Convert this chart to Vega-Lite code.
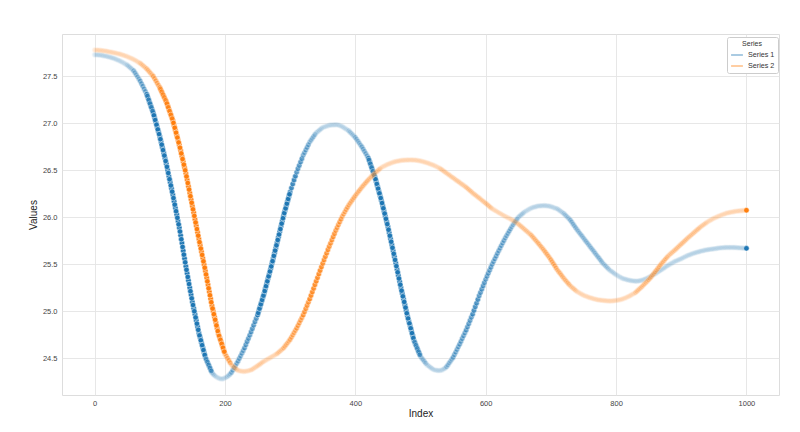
{
  "$schema": "https://vega.github.io/schema/vega-lite/v6.json",
  "width": 717,
  "height": 361,
  "autosize": {"type": "none"},
  "padding": {"left": 62, "top": 34, "right": 21, "bottom": 37},
  "background": "white",
  "data": {"values": [
    {"i":0,"a":27.730,"b":27.780},{"i":2,"a":27.729,"b":27.779},{"i":4,"a":27.728,"b":27.778},{"i":6,"a":27.727,"b":27.777},{"i":8,"a":27.726,"b":27.776},
    {"i":10,"a":27.725,"b":27.775},{"i":12,"a":27.722,"b":27.773},{"i":14,"a":27.719,"b":27.771},{"i":16,"a":27.716,"b":27.769},{"i":18,"a":27.713,"b":27.767},
    {"i":20,"a":27.710,"b":27.765},{"i":22,"a":27.706,"b":27.762},{"i":24,"a":27.702,"b":27.759},{"i":26,"a":27.698,"b":27.756},{"i":28,"a":27.694,"b":27.753},
    {"i":30,"a":27.690,"b":27.750},{"i":32,"a":27.684,"b":27.747},{"i":34,"a":27.678,"b":27.744},{"i":36,"a":27.672,"b":27.741},{"i":38,"a":27.666,"b":27.738},
    {"i":40,"a":27.660,"b":27.735},{"i":42,"a":27.652,"b":27.730},{"i":44,"a":27.644,"b":27.725},{"i":46,"a":27.636,"b":27.720},{"i":48,"a":27.628,"b":27.715},
    {"i":50,"a":27.620,"b":27.710},{"i":52,"a":27.608,"b":27.704},{"i":54,"a":27.596,"b":27.698},{"i":56,"a":27.584,"b":27.692},{"i":58,"a":27.572,"b":27.686},
    {"i":60,"a":27.560,"b":27.680},{"i":62,"a":27.538,"b":27.672},{"i":64,"a":27.516,"b":27.664},{"i":66,"a":27.494,"b":27.656},{"i":68,"a":27.472,"b":27.648},
    {"i":70,"a":27.450,"b":27.640},{"i":72,"a":27.422,"b":27.628},{"i":74,"a":27.394,"b":27.616},{"i":76,"a":27.366,"b":27.604},{"i":78,"a":27.338,"b":27.592},
    {"i":80,"a":27.310,"b":27.580},{"i":82,"a":27.270,"b":27.564},{"i":84,"a":27.230,"b":27.548},{"i":86,"a":27.190,"b":27.532},{"i":88,"a":27.150,"b":27.516},
    {"i":90,"a":27.110,"b":27.500},{"i":92,"a":27.060,"b":27.476},{"i":94,"a":27.010,"b":27.452},{"i":96,"a":26.960,"b":27.428},{"i":98,"a":26.910,"b":27.404},
    {"i":100,"a":26.860,"b":27.380},{"i":102,"a":26.802,"b":27.350},{"i":104,"a":26.744,"b":27.320},{"i":106,"a":26.686,"b":27.290},{"i":108,"a":26.628,"b":27.260},
    {"i":110,"a":26.570,"b":27.230},{"i":112,"a":26.504,"b":27.190},{"i":114,"a":26.438,"b":27.150},{"i":116,"a":26.372,"b":27.110},{"i":118,"a":26.306,"b":27.070},
    {"i":120,"a":26.240,"b":27.030},{"i":122,"a":26.170,"b":26.978},{"i":124,"a":26.100,"b":26.926},{"i":126,"a":26.030,"b":26.874},{"i":128,"a":25.960,"b":26.822},
    {"i":130,"a":25.890,"b":26.770},{"i":132,"a":25.808,"b":26.710},{"i":134,"a":25.726,"b":26.650},{"i":136,"a":25.644,"b":26.590},{"i":138,"a":25.562,"b":26.530},
    {"i":140,"a":25.480,"b":26.470},{"i":142,"a":25.404,"b":26.400},{"i":144,"a":25.328,"b":26.330},{"i":146,"a":25.252,"b":26.260},{"i":148,"a":25.176,"b":26.190},
    {"i":150,"a":25.100,"b":26.120},{"i":152,"a":25.034,"b":26.050},{"i":154,"a":24.968,"b":25.980},{"i":156,"a":24.902,"b":25.910},{"i":158,"a":24.836,"b":25.840},
    {"i":160,"a":24.770,"b":25.770},{"i":162,"a":24.718,"b":25.702},{"i":164,"a":24.666,"b":25.634},{"i":166,"a":24.614,"b":25.566},{"i":168,"a":24.562,"b":25.498},
    {"i":170,"a":24.510,"b":25.430},{"i":172,"a":24.478,"b":25.356},{"i":174,"a":24.446,"b":25.282},{"i":176,"a":24.414,"b":25.208},{"i":178,"a":24.382,"b":25.134},
    {"i":180,"a":24.350,"b":25.060},{"i":182,"a":24.332,"b":25.000},{"i":184,"a":24.318,"b":24.940},{"i":186,"a":24.306,"b":24.880},{"i":188,"a":24.297,"b":24.820},
    {"i":190,"a":24.290,"b":24.760},{"i":192,"a":24.285,"b":24.718},{"i":194,"a":24.281,"b":24.676},{"i":196,"a":24.281,"b":24.634},{"i":198,"a":24.285,"b":24.592},
    {"i":200,"a":24.290,"b":24.550},{"i":202,"a":24.298,"b":24.526},{"i":204,"a":24.308,"b":24.502},{"i":206,"a":24.320,"b":24.478},{"i":208,"a":24.334,"b":24.454},
    {"i":210,"a":24.350,"b":24.430},{"i":212,"a":24.374,"b":24.418},{"i":214,"a":24.398,"b":24.406},{"i":216,"a":24.422,"b":24.394},{"i":218,"a":24.446,"b":24.382},
    {"i":220,"a":24.470,"b":24.370},{"i":222,"a":24.498,"b":24.367},{"i":224,"a":24.526,"b":24.365},{"i":226,"a":24.554,"b":24.363},{"i":228,"a":24.582,"b":24.361},
    {"i":230,"a":24.610,"b":24.360},{"i":232,"a":24.644,"b":24.362},{"i":234,"a":24.678,"b":24.365},{"i":236,"a":24.712,"b":24.368},{"i":238,"a":24.746,"b":24.372},
    {"i":240,"a":24.780,"b":24.375},{"i":242,"a":24.816,"b":24.384},{"i":244,"a":24.852,"b":24.393},{"i":246,"a":24.888,"b":24.402},{"i":248,"a":24.924,"b":24.411},
    {"i":250,"a":24.960,"b":24.420},{"i":252,"a":25.006,"b":24.430},{"i":254,"a":25.052,"b":24.440},{"i":256,"a":25.098,"b":24.450},{"i":258,"a":25.144,"b":24.460},
    {"i":260,"a":25.190,"b":24.470},{"i":262,"a":25.242,"b":24.478},{"i":264,"a":25.294,"b":24.486},{"i":266,"a":25.346,"b":24.494},{"i":268,"a":25.398,"b":24.502},
    {"i":270,"a":25.450,"b":24.510},{"i":272,"a":25.506,"b":24.518},{"i":274,"a":25.562,"b":24.526},{"i":276,"a":25.618,"b":24.534},{"i":278,"a":25.674,"b":24.542},
    {"i":280,"a":25.730,"b":24.550},{"i":282,"a":25.788,"b":24.562},{"i":284,"a":25.846,"b":24.574},{"i":286,"a":25.904,"b":24.586},{"i":288,"a":25.962,"b":24.598},
    {"i":290,"a":26.020,"b":24.610},{"i":292,"a":26.070,"b":24.628},{"i":294,"a":26.120,"b":24.646},{"i":296,"a":26.170,"b":24.664},{"i":298,"a":26.220,"b":24.682},
    {"i":300,"a":26.270,"b":24.700},{"i":302,"a":26.312,"b":24.724},{"i":304,"a":26.354,"b":24.748},{"i":306,"a":26.396,"b":24.772},{"i":308,"a":26.438,"b":24.796},
    {"i":310,"a":26.480,"b":24.820},{"i":312,"a":26.516,"b":24.848},{"i":314,"a":26.552,"b":24.876},{"i":316,"a":26.588,"b":24.904},{"i":318,"a":26.624,"b":24.932},
    {"i":320,"a":26.660,"b":24.960},{"i":322,"a":26.688,"b":24.994},{"i":324,"a":26.716,"b":25.028},{"i":326,"a":26.744,"b":25.062},{"i":328,"a":26.772,"b":25.096},
    {"i":330,"a":26.800,"b":25.130},{"i":332,"a":26.820,"b":25.168},{"i":334,"a":26.840,"b":25.206},{"i":336,"a":26.860,"b":25.244},{"i":338,"a":26.880,"b":25.282},
    {"i":340,"a":26.900,"b":25.320},{"i":342,"a":26.911,"b":25.358},{"i":344,"a":26.922,"b":25.396},{"i":346,"a":26.933,"b":25.434},{"i":348,"a":26.944,"b":25.472},
    {"i":350,"a":26.955,"b":25.510},{"i":352,"a":26.960,"b":25.546},{"i":354,"a":26.965,"b":25.582},{"i":356,"a":26.970,"b":25.618},{"i":358,"a":26.975,"b":25.654},
    {"i":360,"a":26.980,"b":25.690},{"i":362,"a":26.981,"b":25.724},{"i":364,"a":26.982,"b":25.758},{"i":366,"a":26.983,"b":25.792},{"i":368,"a":26.984,"b":25.826},
    {"i":370,"a":26.985,"b":25.860},{"i":372,"a":26.984,"b":25.890},{"i":374,"a":26.981,"b":25.920},{"i":376,"a":26.977,"b":25.950},{"i":378,"a":26.971,"b":25.980},
    {"i":380,"a":26.965,"b":26.010},{"i":382,"a":26.956,"b":26.034},{"i":384,"a":26.947,"b":26.058},{"i":386,"a":26.938,"b":26.082},{"i":388,"a":26.929,"b":26.106},
    {"i":390,"a":26.920,"b":26.130},{"i":392,"a":26.906,"b":26.150},{"i":394,"a":26.892,"b":26.170},{"i":396,"a":26.878,"b":26.190},{"i":398,"a":26.864,"b":26.210},
    {"i":400,"a":26.850,"b":26.230},{"i":402,"a":26.830,"b":26.248},{"i":404,"a":26.810,"b":26.266},{"i":406,"a":26.790,"b":26.284},{"i":408,"a":26.770,"b":26.302},
    {"i":410,"a":26.750,"b":26.320},{"i":412,"a":26.726,"b":26.336},{"i":414,"a":26.702,"b":26.352},{"i":416,"a":26.678,"b":26.368},{"i":418,"a":26.654,"b":26.384},
    {"i":420,"a":26.630,"b":26.400},{"i":422,"a":26.590,"b":26.414},{"i":424,"a":26.550,"b":26.428},{"i":426,"a":26.510,"b":26.442},{"i":428,"a":26.470,"b":26.456},
    {"i":430,"a":26.430,"b":26.470},{"i":432,"a":26.380,"b":26.482},{"i":434,"a":26.330,"b":26.494},{"i":436,"a":26.280,"b":26.506},{"i":438,"a":26.230,"b":26.518},
    {"i":440,"a":26.180,"b":26.530},{"i":442,"a":26.124,"b":26.537},{"i":444,"a":26.068,"b":26.544},{"i":446,"a":26.012,"b":26.551},{"i":448,"a":25.956,"b":26.558},
    {"i":450,"a":25.900,"b":26.565},{"i":452,"a":25.836,"b":26.570},{"i":454,"a":25.772,"b":26.575},{"i":456,"a":25.708,"b":26.580},{"i":458,"a":25.644,"b":26.585},
    {"i":460,"a":25.580,"b":26.590},{"i":462,"a":25.514,"b":26.593},{"i":464,"a":25.448,"b":26.596},{"i":466,"a":25.382,"b":26.599},{"i":468,"a":25.316,"b":26.602},
    {"i":470,"a":25.250,"b":26.605},{"i":472,"a":25.190,"b":26.606},{"i":474,"a":25.130,"b":26.607},{"i":476,"a":25.070,"b":26.608},{"i":478,"a":25.010,"b":26.609},
    {"i":480,"a":24.950,"b":26.610},{"i":482,"a":24.898,"b":26.610},{"i":484,"a":24.846,"b":26.611},{"i":486,"a":24.794,"b":26.611},{"i":488,"a":24.742,"b":26.610},
    {"i":490,"a":24.690,"b":26.610},{"i":492,"a":24.656,"b":26.608},{"i":494,"a":24.622,"b":26.606},{"i":496,"a":24.588,"b":26.604},{"i":498,"a":24.554,"b":26.602},
    {"i":500,"a":24.520,"b":26.600},{"i":502,"a":24.502,"b":26.596},{"i":504,"a":24.484,"b":26.592},{"i":506,"a":24.466,"b":26.588},{"i":508,"a":24.448,"b":26.584},
    {"i":510,"a":24.430,"b":26.580},{"i":512,"a":24.420,"b":26.575},{"i":514,"a":24.410,"b":26.570},{"i":516,"a":24.400,"b":26.565},{"i":518,"a":24.390,"b":26.560},
    {"i":520,"a":24.380,"b":26.555},{"i":522,"a":24.376,"b":26.548},{"i":524,"a":24.373,"b":26.541},{"i":526,"a":24.371,"b":26.534},{"i":528,"a":24.370,"b":26.527},
    {"i":530,"a":24.370,"b":26.520},{"i":532,"a":24.373,"b":26.510},{"i":534,"a":24.379,"b":26.500},{"i":536,"a":24.388,"b":26.490},{"i":538,"a":24.398,"b":26.480},
    {"i":540,"a":24.410,"b":26.470},{"i":542,"a":24.430,"b":26.460},{"i":544,"a":24.450,"b":26.450},{"i":546,"a":24.470,"b":26.440},{"i":548,"a":24.490,"b":26.430},
    {"i":550,"a":24.510,"b":26.420},{"i":552,"a":24.538,"b":26.410},{"i":554,"a":24.566,"b":26.400},{"i":556,"a":24.594,"b":26.390},{"i":558,"a":24.622,"b":26.380},
    {"i":560,"a":24.650,"b":26.370},{"i":562,"a":24.680,"b":26.360},{"i":564,"a":24.710,"b":26.350},{"i":566,"a":24.740,"b":26.340},{"i":568,"a":24.770,"b":26.330},
    {"i":570,"a":24.800,"b":26.320},{"i":572,"a":24.834,"b":26.308},{"i":574,"a":24.868,"b":26.296},{"i":576,"a":24.902,"b":26.284},{"i":578,"a":24.936,"b":26.272},
    {"i":580,"a":24.970,"b":26.260},{"i":582,"a":25.009,"b":26.249},{"i":584,"a":25.048,"b":26.238},{"i":586,"a":25.087,"b":26.227},{"i":588,"a":25.126,"b":26.216},
    {"i":590,"a":25.165,"b":26.205},{"i":592,"a":25.200,"b":26.194},{"i":594,"a":25.235,"b":26.183},{"i":596,"a":25.270,"b":26.172},{"i":598,"a":25.305,"b":26.161},
    {"i":600,"a":25.340,"b":26.150},{"i":602,"a":25.372,"b":26.138},{"i":604,"a":25.404,"b":26.126},{"i":606,"a":25.436,"b":26.114},{"i":608,"a":25.468,"b":26.102},
    {"i":610,"a":25.500,"b":26.090},{"i":612,"a":25.529,"b":26.082},{"i":614,"a":25.558,"b":26.074},{"i":616,"a":25.587,"b":26.066},{"i":618,"a":25.616,"b":26.058},
    {"i":620,"a":25.645,"b":26.050},{"i":622,"a":25.672,"b":26.042},{"i":624,"a":25.699,"b":26.034},{"i":626,"a":25.726,"b":26.026},{"i":628,"a":25.753,"b":26.018},
    {"i":630,"a":25.780,"b":26.010},{"i":632,"a":25.804,"b":26.003},{"i":634,"a":25.828,"b":25.996},{"i":636,"a":25.852,"b":25.989},{"i":638,"a":25.876,"b":25.982},
    {"i":640,"a":25.900,"b":25.975},{"i":642,"a":25.920,"b":25.966},{"i":644,"a":25.940,"b":25.957},{"i":646,"a":25.960,"b":25.948},{"i":648,"a":25.980,"b":25.939},
    {"i":650,"a":26.000,"b":25.930},{"i":652,"a":26.012,"b":25.918},{"i":654,"a":26.024,"b":25.906},{"i":656,"a":26.036,"b":25.894},{"i":658,"a":26.048,"b":25.882},
    {"i":660,"a":26.060,"b":25.870},{"i":662,"a":26.068,"b":25.858},{"i":664,"a":26.076,"b":25.846},{"i":666,"a":26.084,"b":25.834},{"i":668,"a":26.092,"b":25.822},
    {"i":670,"a":26.100,"b":25.810},{"i":672,"a":26.104,"b":25.794},{"i":674,"a":26.108,"b":25.778},{"i":676,"a":26.112,"b":25.762},{"i":678,"a":26.116,"b":25.746},
    {"i":680,"a":26.120,"b":25.730},{"i":682,"a":26.121,"b":25.713},{"i":684,"a":26.122,"b":25.696},{"i":686,"a":26.123,"b":25.679},{"i":688,"a":26.124,"b":25.662},
    {"i":690,"a":26.125,"b":25.645},{"i":692,"a":26.124,"b":25.626},{"i":694,"a":26.122,"b":25.607},{"i":696,"a":26.120,"b":25.588},{"i":698,"a":26.118,"b":25.569},
    {"i":700,"a":26.115,"b":25.550},{"i":702,"a":26.110,"b":25.528},{"i":704,"a":26.105,"b":25.506},{"i":706,"a":26.100,"b":25.484},{"i":708,"a":26.095,"b":25.462},
    {"i":710,"a":26.090,"b":25.440},{"i":712,"a":26.080,"b":25.422},{"i":714,"a":26.070,"b":25.404},{"i":716,"a":26.060,"b":25.386},{"i":718,"a":26.050,"b":25.368},
    {"i":720,"a":26.040,"b":25.350},{"i":722,"a":26.026,"b":25.334},{"i":724,"a":26.012,"b":25.318},{"i":726,"a":25.998,"b":25.302},{"i":728,"a":25.984,"b":25.286},
    {"i":730,"a":25.970,"b":25.270},{"i":732,"a":25.950,"b":25.258},{"i":734,"a":25.930,"b":25.246},{"i":736,"a":25.910,"b":25.234},{"i":738,"a":25.890,"b":25.222},
    {"i":740,"a":25.870,"b":25.210},{"i":742,"a":25.852,"b":25.202},{"i":744,"a":25.834,"b":25.194},{"i":746,"a":25.816,"b":25.186},{"i":748,"a":25.798,"b":25.178},
    {"i":750,"a":25.780,"b":25.170},{"i":752,"a":25.762,"b":25.165},{"i":754,"a":25.744,"b":25.160},{"i":756,"a":25.726,"b":25.155},{"i":758,"a":25.708,"b":25.150},
    {"i":760,"a":25.690,"b":25.145},{"i":762,"a":25.672,"b":25.141},{"i":764,"a":25.654,"b":25.137},{"i":766,"a":25.636,"b":25.133},{"i":768,"a":25.618,"b":25.129},
    {"i":770,"a":25.600,"b":25.125},{"i":772,"a":25.582,"b":25.123},{"i":774,"a":25.564,"b":25.121},{"i":776,"a":25.546,"b":25.119},{"i":778,"a":25.528,"b":25.117},
    {"i":780,"a":25.510,"b":25.115},{"i":782,"a":25.496,"b":25.114},{"i":784,"a":25.482,"b":25.113},{"i":786,"a":25.468,"b":25.112},{"i":788,"a":25.454,"b":25.111},
    {"i":790,"a":25.440,"b":25.110},{"i":792,"a":25.430,"b":25.110},{"i":794,"a":25.420,"b":25.111},{"i":796,"a":25.410,"b":25.112},{"i":798,"a":25.400,"b":25.114},
    {"i":800,"a":25.390,"b":25.115},{"i":802,"a":25.382,"b":25.118},{"i":804,"a":25.374,"b":25.121},{"i":806,"a":25.366,"b":25.124},{"i":808,"a":25.358,"b":25.127},
    {"i":810,"a":25.350,"b":25.130},{"i":812,"a":25.346,"b":25.136},{"i":814,"a":25.342,"b":25.142},{"i":816,"a":25.338,"b":25.148},{"i":818,"a":25.334,"b":25.154},
    {"i":820,"a":25.330,"b":25.160},{"i":822,"a":25.328,"b":25.168},{"i":824,"a":25.326,"b":25.176},{"i":826,"a":25.324,"b":25.184},{"i":828,"a":25.322,"b":25.192},
    {"i":830,"a":25.320,"b":25.200},{"i":832,"a":25.321,"b":25.213},{"i":834,"a":25.323,"b":25.226},{"i":836,"a":25.325,"b":25.239},{"i":838,"a":25.327,"b":25.252},
    {"i":840,"a":25.330,"b":25.265},{"i":842,"a":25.336,"b":25.279},{"i":844,"a":25.342,"b":25.293},{"i":846,"a":25.348,"b":25.307},{"i":848,"a":25.354,"b":25.321},
    {"i":850,"a":25.360,"b":25.335},{"i":852,"a":25.368,"b":25.352},{"i":854,"a":25.376,"b":25.369},{"i":856,"a":25.384,"b":25.386},{"i":858,"a":25.392,"b":25.403},
    {"i":860,"a":25.400,"b":25.420},{"i":862,"a":25.409,"b":25.438},{"i":864,"a":25.418,"b":25.456},{"i":866,"a":25.427,"b":25.474},{"i":868,"a":25.436,"b":25.492},
    {"i":870,"a":25.445,"b":25.510},{"i":872,"a":25.454,"b":25.526},{"i":874,"a":25.463,"b":25.542},{"i":876,"a":25.472,"b":25.558},{"i":878,"a":25.481,"b":25.574},
    {"i":880,"a":25.490,"b":25.590},{"i":882,"a":25.498,"b":25.602},{"i":884,"a":25.506,"b":25.614},{"i":886,"a":25.514,"b":25.626},{"i":888,"a":25.522,"b":25.638},
    {"i":890,"a":25.530,"b":25.650},{"i":892,"a":25.536,"b":25.663},{"i":894,"a":25.542,"b":25.676},{"i":896,"a":25.548,"b":25.689},{"i":898,"a":25.554,"b":25.702},
    {"i":900,"a":25.560,"b":25.715},{"i":902,"a":25.567,"b":25.728},{"i":904,"a":25.574,"b":25.741},{"i":906,"a":25.581,"b":25.754},{"i":908,"a":25.588,"b":25.767},
    {"i":910,"a":25.595,"b":25.780},{"i":912,"a":25.600,"b":25.792},{"i":914,"a":25.605,"b":25.804},{"i":916,"a":25.610,"b":25.816},{"i":918,"a":25.615,"b":25.828},
    {"i":920,"a":25.620,"b":25.840},{"i":922,"a":25.624,"b":25.852},{"i":924,"a":25.628,"b":25.864},{"i":926,"a":25.632,"b":25.876},{"i":928,"a":25.636,"b":25.888},
    {"i":930,"a":25.640,"b":25.900},{"i":932,"a":25.643,"b":25.910},{"i":934,"a":25.646,"b":25.920},{"i":936,"a":25.649,"b":25.930},{"i":938,"a":25.652,"b":25.940},
    {"i":940,"a":25.655,"b":25.950},{"i":942,"a":25.657,"b":25.958},{"i":944,"a":25.659,"b":25.966},{"i":946,"a":25.661,"b":25.974},{"i":948,"a":25.663,"b":25.982},
    {"i":950,"a":25.665,"b":25.990},{"i":952,"a":25.667,"b":25.996},{"i":954,"a":25.669,"b":26.002},{"i":956,"a":25.671,"b":26.008},{"i":958,"a":25.673,"b":26.014},
    {"i":960,"a":25.675,"b":26.020},{"i":962,"a":25.676,"b":26.025},{"i":964,"a":25.677,"b":26.030},{"i":966,"a":25.678,"b":26.035},{"i":968,"a":25.679,"b":26.040},
    {"i":970,"a":25.680,"b":26.045},{"i":972,"a":25.680,"b":26.048},{"i":974,"a":25.680,"b":26.051},{"i":976,"a":25.680,"b":26.054},{"i":978,"a":25.680,"b":26.057},
    {"i":980,"a":25.680,"b":26.060},{"i":982,"a":25.679,"b":26.062},{"i":984,"a":25.678,"b":26.064},{"i":986,"a":25.677,"b":26.066},{"i":988,"a":25.676,"b":26.068},
    {"i":990,"a":25.675,"b":26.070},{"i":992,"a":25.674,"b":26.071},{"i":994,"a":25.673,"b":26.072},{"i":996,"a":25.672,"b":26.073},{"i":998,"a":25.671,"b":26.074},
    {"i":1000,"a":25.670,"b":26.075},
    {"i":81,"a":27.290},{"i":83,"a":27.250},{"i":85,"a":27.210},{"i":87,"a":27.170},{"i":89,"a":27.130},
    {"i":91,"a":27.085},{"i":93,"a":27.035},{"i":95,"a":26.985},{"i":97,"a":26.935},{"i":99,"a":26.885},
    {"i":101,"a":26.831,"b":27.365},{"i":103,"a":26.773,"b":27.335},{"i":105,"a":26.715,"b":27.305},{"i":107,"a":26.657,"b":27.275},{"i":109,"a":26.599,"b":27.245},
    {"i":111,"a":26.537,"b":27.210},{"i":113,"a":26.471,"b":27.170},{"i":115,"a":26.405,"b":27.130},{"i":117,"a":26.339,"b":27.090},{"i":119,"a":26.273,"b":27.050},
    {"i":121,"a":26.205,"b":27.004},{"i":123,"a":26.135,"b":26.952},{"i":125,"a":26.065,"b":26.900},{"i":127,"a":25.995,"b":26.848},{"i":129,"a":25.925,"b":26.796},
    {"i":131,"a":25.849,"b":26.740},{"i":133,"a":25.767,"b":26.680},{"i":135,"a":25.685,"b":26.620},{"i":137,"a":25.603,"b":26.560},{"i":139,"a":25.521,"b":26.500},
    {"i":141,"a":25.442,"b":26.435},{"i":143,"a":25.366,"b":26.365},{"i":145,"a":25.290,"b":26.295},{"i":147,"a":25.214,"b":26.225},{"i":149,"a":25.138,"b":26.155},
    {"i":151,"a":25.067,"b":26.085},{"i":153,"a":25.001,"b":26.015},{"i":155,"a":24.935,"b":25.945},{"i":157,"a":24.869,"b":25.875},{"i":159,"a":24.803,"b":25.805},
    {"i":161,"a":24.744,"b":25.736},{"i":163,"a":24.692,"b":25.668},{"i":165,"a":24.640,"b":25.600},{"i":167,"a":24.588,"b":25.532},{"i":169,"a":24.536,"b":25.464},
    {"i":171,"a":24.494,"b":25.393},{"i":173,"a":24.462,"b":25.319},{"i":175,"a":24.430,"b":25.245},{"i":177,"a":24.398,"b":25.171},{"i":179,"a":24.366,"b":25.097},
    {"i":181,"b":25.030},{"i":183,"b":24.970},{"i":185,"b":24.910},{"i":187,"b":24.850},{"i":189,"b":24.790},
    {"i":191,"b":24.739},{"i":193,"b":24.697},{"i":195,"b":24.655},{"i":197,"b":24.613},{"i":199,"b":24.571},
    {"i":251,"a":24.983},{"i":253,"a":25.029},{"i":255,"a":25.075},{"i":257,"a":25.121},{"i":259,"a":25.167},
    {"i":261,"a":25.216},{"i":263,"a":25.268},{"i":265,"a":25.320},{"i":267,"a":25.372},{"i":269,"a":25.424},
    {"i":271,"a":25.478},{"i":273,"a":25.534},{"i":275,"a":25.590},{"i":277,"a":25.646},{"i":279,"a":25.702},
    {"i":281,"a":25.759},{"i":283,"a":25.817},{"i":285,"a":25.875},{"i":287,"a":25.933},{"i":289,"a":25.991},
    {"i":291,"a":26.045},{"i":293,"a":26.095},{"i":295,"a":26.145},{"i":297,"a":26.195},{"i":299,"a":26.245},
    {"i":421,"a":26.610},{"i":423,"a":26.570},{"i":425,"a":26.530},{"i":427,"a":26.490},{"i":429,"a":26.450},
    {"i":431,"a":26.405},{"i":433,"a":26.355},{"i":435,"a":26.305},{"i":437,"a":26.255},{"i":439,"a":26.205},
    {"i":441,"a":26.152},{"i":443,"a":26.096},{"i":445,"a":26.040},{"i":447,"a":25.984},{"i":449,"a":25.928},
    {"i":451,"a":25.868},{"i":453,"a":25.804},{"i":455,"a":25.740},{"i":457,"a":25.676},{"i":459,"a":25.612},
    {"i":461,"a":25.547},{"i":463,"a":25.481},{"i":465,"a":25.415},{"i":467,"a":25.349},{"i":469,"a":25.283},
    {"i":471,"a":25.220},{"i":473,"a":25.160},{"i":475,"a":25.100},{"i":477,"a":25.040},{"i":479,"a":24.980},
    {"i":481,"a":24.924},{"i":483,"a":24.872},{"i":485,"a":24.820},{"i":487,"a":24.768},{"i":489,"a":24.716},
    {"i":491,"a":24.673},{"i":493,"a":24.639},{"i":495,"a":24.605},{"i":497,"a":24.571},{"i":499,"a":24.537}
  ]},
  "transform": [
    {"fold": ["a", "b"], "as": ["k", "v"]},
    {"filter": "isValid(datum.v)"},
    {"calculate": "datum.k == 'a' ? 'Series 1' : 'Series 2'", "as": "Series"},
    {"window": [{"op": "lead", "field": "v", "as": "next"}, {"op": "lead", "field": "i", "as": "nexti"}], "groupby": ["Series"], "sort": [{"field": "i"}]},
    {"calculate": "datum.next == null ? null : abs(datum.next - datum.v) / (datum.nexti - datum.i)", "as": "d"},
    {"joinaggregate": [{"op": "max", "field": "d", "as": "dmax"}], "groupby": ["Series"]},
    {"calculate": "datum.next == null ? 1 : datum.d / datum.dmax", "as": "alpha"}
  ],
  "encoding": {
    "x": {
      "field": "i", "type": "quantitative",
      "scale": {"domain": [-50, 1050], "nice": false, "zero": false},
      "axis": {"title": "Index", "values": [0, 200, 400, 600, 800, 1000], "format": "d"}
    },
    "y": {
      "field": "v", "type": "quantitative",
      "scale": {"domain": [24.11, 27.95], "nice": false, "zero": false},
      "axis": {"title": "Values", "values": [24.5, 25, 25.5, 26, 26.5, 27, 27.5], "format": ".1f"}
    }
  },
  "layer": [
    {
      "transform": [{"filter": "false"}],
      "mark": {"type": "line", "strokeWidth": 1.5},
      "encoding": {
        "stroke": {
          "field": "Series", "type": "nominal",
          "scale": {"domain": ["Series 1", "Series 2"], "range": ["#1f77b4", "#ff7f0e"]},
          "legend": {
            "title": "Series",
            "orient": "none",
            "legendX": 665,
            "legendY": 3,
            "symbolType": "stroke",
            "symbolSize": 140,
            "symbolStrokeWidth": 1.5,
            "symbolOpacity": 0.5
          }
        }
      }
    },
    {
      "mark": {"type": "point", "filled": true, "size": 30, "stroke": "white", "strokeWidth": 0.5},
      "encoding": {
        "fill": {
          "field": "Series", "type": "nominal",
          "scale": {"domain": ["Series 1", "Series 2"], "range": ["#1f77b4", "#ff7f0e"]},
          "legend": null
        },
        "opacity": {"field": "alpha", "type": "quantitative", "scale": {"domain": [0.1, 0.6], "range": [0.1, 1], "clamp": true}, "legend": null},
        "order": {"field": "Series"}
      }
    }
  ],
  "config": {
    "font": "Liberation Sans",
    "view": {"stroke": "#dddddd", "strokeWidth": 1},
    "axis": {
      "grid": true, "gridColor": "#e4e4e4", "gridWidth": 0.9,
      "domain": false, "ticks": false,
      "labelFont": "Liberation Sans", "labelFontSize": 7.5, "labelColor": "#444444",
      "titleFont": "Liberation Sans", "titleFontSize": 10, "titleFontWeight": "normal", "titleColor": "#222222"
    },
    "axisX": {"labelPadding": 4, "titlePadding": 2},
    "axisY": {"labelPadding": 5, "titlePadding": 4},
    "legend": {
      "padding": 3, "fillColor": "white", "strokeColor": "#cccccc", "cornerRadius": 2,
      "titleFontSize": 7, "titleFontWeight": "normal", "titleColor": "#333333", "titleAnchor": "middle", "titleAlign": "center", "titlePadding": 1,
      "labelFontSize": 7.2, "labelColor": "#333333", "rowPadding": 0
    }
  }
}
